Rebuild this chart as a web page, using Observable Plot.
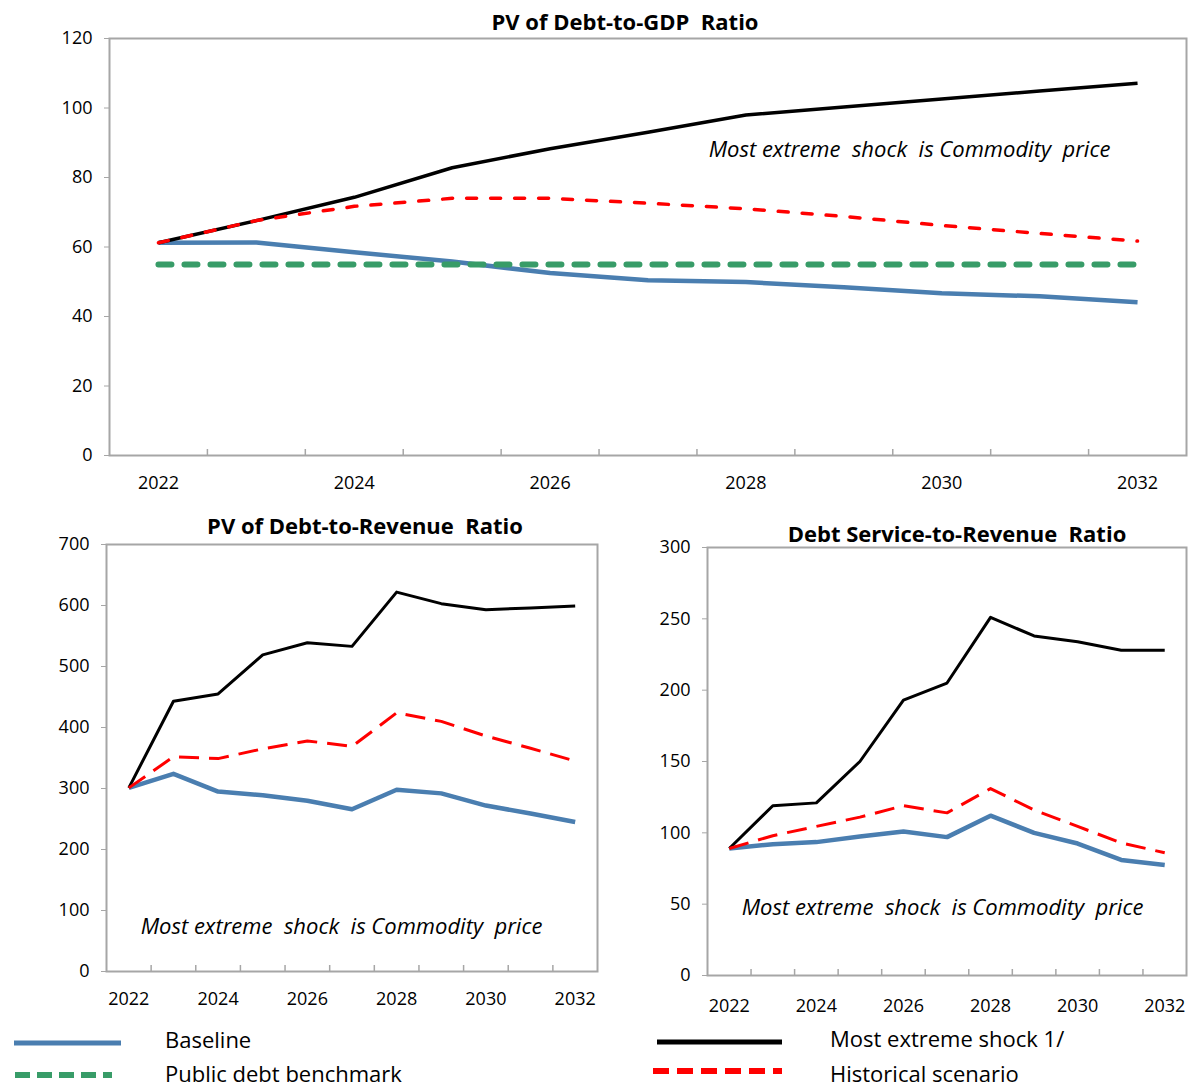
<!DOCTYPE html>
<html>
<head>
<meta charset="utf-8">
<script src="https://cdn.jsdelivr.net/npm/d3@7"></script>
<script src="https://cdn.jsdelivr.net/npm/@observablehq/plot@0.6"></script>
<style>
  body { margin: 0; background: #fff; }
  #root { position: relative; width: 1188px; height: 1087px; font-family: "Open Sans", sans-serif; }
  .chart { position: absolute; }
  .leg-text { position: absolute; font-size: 22px; line-height: 1; color: #000; white-space: pre; transform: translateY(-50%); }
  .leg-sw { position: absolute; }
  svg text { white-space: pre; }
</style>
</head>
<body>
<div id="root"></div>
<script>
// ---------- data ----------
const years = [2022, 2023, 2024, 2025, 2026, 2027, 2028, 2029, 2030, 2031, 2032];
const yearLabels = [2022, 2024, 2026, 2028, 2030, 2032];

// PV of Debt-to-GDP ratio
const gdpBaseline   = [61.2, 61.3, 58.5, 55.8, 52.5, 50.4, 49.9, 48.4, 46.7, 45.8, 44.1];
const gdpBenchmark  = [55, 55, 55, 55, 55, 55, 55, 55, 55, 55, 55];
const gdpShock      = [61.2, 67.6, 74.3, 82.8, 88.3, 93.0, 98.0, 100.3, 102.6, 104.9, 107.1];
const gdpHistorical = [61.2, 67.6, 71.7, 74.0, 74.0, 72.6, 71.0, 68.8, 66.2, 63.9, 61.7];
const gdpTicks = [0, 20, 40, 60, 80, 100, 120];

// PV of Debt-to-Revenue ratio
const revBaseline   = [301, 324, 295, 289, 280, 266, 298, 292, 272, 259, 245];
const revShock      = [301, 443, 455, 519, 539, 533, 622, 603, 593, 596, 599];
const revHistorical = [301, 352, 349, 365, 378, 369, 424, 410, 386, 366, 345];
const revTicks = [0, 100, 200, 300, 400, 500, 600, 700];

// Debt Service-to-Revenue ratio
const dsBaseline   = [89, 92, 93.5, 97.5, 101, 97, 112, 100, 92.5, 81, 77.5];
const dsShock      = [89, 119, 121, 150, 193, 205, 251, 238, 234, 228, 228];
const dsHistorical = [89, 98, 104.5, 111, 119, 114, 131, 116, 104.5, 93, 86];
const dsTicks = [0, 50, 100, 150, 200, 250, 300];

const seriesNames = ["Baseline", "Public debt benchmark", "Most extreme shock 1/", "Historical scenario"];
const annotation = "Most extreme  shock  is Commodity  price";

// ---------- styles ----------
const GRAY = "#a6a6a6";
const BLUE = "#4a7eb0";
const GREEN = "#389c68";
const RED = "#ff0000";

function rows(vals) { return years.map((y, i) => ({year: y, value: vals[i]})); }

function chart(o) {
  const ph = o.height - o.mt - o.mb;
  const boundaries = years.slice(0, -1).map(y => y + 0.5);
  return Plot.plot({
    width: o.width, height: o.height,
    marginTop: o.mt, marginBottom: o.mb, marginLeft: o.ml, marginRight: o.mr,
    x: {domain: [years[0] - 0.5, years[years.length - 1] + 0.5], axis: null},
    y: {domain: [o.ticks[0], o.ticks[o.ticks.length - 1]], axis: null},
    style: {fontFamily: "Open Sans, sans-serif", fontSize: "18px", color: "#000", background: "transparent", overflow: "visible"},
    marks: [
      Plot.ruleX(boundaries, {x: d => d, stroke: GRAY, strokeWidth: 1.5, insetTop: ph - 6}),
      Plot.frame({stroke: GRAY, strokeWidth: 2}),
      Plot.axisY({ticks: o.ticks, tickSize: 5, tickPadding: 12, stroke: GRAY, fill: "#000", fontSize: 18, label: null, tickFormat: d => String(d)}),
      Plot.axisX({ticks: yearLabels, tickSize: 0, tickPadding: o.xpad, fill: "#000", fontSize: 18, label: null, tickFormat: d => String(d)}),
      ...o.lines.map(l => Plot.line(rows(l.values), {
        x: "year", y: "value", stroke: l.color, strokeWidth: l.width,
        strokeDasharray: l.dash, strokeLinecap: l.cap || "butt", strokeLinejoin: "round"
      })),
      Plot.text([o.title], {text: d => d, frameAnchor: "top", dx: o.tdx, dy: o.tdy, textAnchor: "middle", lineAnchor: "middle", fontWeight: "bold", fontSize: 22, fill: "#000"}),
      Plot.text([annotation], {text: d => d, frameAnchor: o.aAnchor, dx: o.adx, dy: o.ady, textAnchor: "middle", lineAnchor: "middle", fontStyle: "italic", fontSize: 22, fill: "#000"})
    ]
  });
}

const root = document.getElementById("root");
function place(el, left, top) {
  el.classList.add("chart");
  el.style.left = left + "px";
  el.style.top = top + "px";
  root.appendChild(el);
}

// Top chart: frame x 109–1186, y 38–455
place(chart({
  width: 1188, height: 500, mt: 38, mb: 45, ml: 109, mr: 2, xpad: 21,
  ticks: gdpTicks,
  title: "PV of Debt-to-GDP  Ratio", tdx: -23, tdy: -16,
  aAnchor: "top-right", adx: -277, ady: 111,
  lines: [
    {values: gdpBaseline, color: BLUE, width: 4.5},
    {values: gdpBenchmark, color: GREEN, width: 6, dash: "13,13", cap: "round"},
    {values: gdpShock, color: "#000", width: 3.5},
    {values: gdpHistorical, color: RED, width: 3.5, dash: "10,14", cap: "round"}
  ]
}), 0, 0);

// Bottom-left: frame x 106–597, y 544–971
place(chart({
  width: 600, height: 506, mt: 34, mb: 45, ml: 106, mr: 3, xpad: 21,
  ticks: revTicks,
  title: "PV of Debt-to-Revenue  Ratio", tdx: 13, tdy: -18,
  aAnchor: "bottom-left", adx: 235, ady: -45,
  lines: [
    {values: revBaseline, color: BLUE, width: 4.5},
    {values: revShock, color: "#000", width: 3},
    {values: revHistorical, color: RED, width: 3, dash: "20,10"}
  ]
}), 0, 510);

// Bottom-right: frame x 707–1186, y 547–975
place(chart({
  width: 588, height: 510, mt: 37, mb: 45, ml: 107, mr: 2, xpad: 24,
  ticks: dsTicks,
  title: "Debt Service-to-Revenue  Ratio", tdx: 10, tdy: -13,
  aAnchor: "bottom-left", adx: 235, ady: -68,
  lines: [
    {values: dsBaseline, color: BLUE, width: 4.5},
    {values: dsShock, color: "#000", width: 3},
    {values: dsHistorical, color: RED, width: 3, dash: "20,10"}
  ]
}), 600, 510);

// ---------- legend ----------
const legend = [
  {name: seriesNames[0], color: BLUE, width: 5, dash: null, x0: 14, x1: 121, y: 1043, tx: 165, ty: 1039},
  {name: seriesNames[1], color: GREEN, width: 6, dash: "15,7", x0: 15, x1: 112, y: 1075, tx: 165, ty: 1073},
  {name: seriesNames[2], color: "#000", width: 5, dash: null, x0: 657, x1: 782, y: 1042, tx: 830, ty: 1038},
  {name: seriesNames[3], color: RED, width: 6, dash: "16,8", x0: 653, x1: 782, y: 1071, tx: 830, ty: 1073}
];
const NS = "http://www.w3.org/2000/svg";
for (const l of legend) {
  const svg = document.createElementNS(NS, "svg");
  const w = l.x1 - l.x0;
  svg.setAttribute("width", w);
  svg.setAttribute("height", 10);
  svg.setAttribute("class", "leg-sw");
  svg.style.left = l.x0 + "px";
  svg.style.top = (l.y - 5) + "px";
  const line = document.createElementNS(NS, "line");
  line.setAttribute("x1", 0); line.setAttribute("x2", w);
  line.setAttribute("y1", 5); line.setAttribute("y2", 5);
  line.setAttribute("stroke", l.color);
  line.setAttribute("stroke-width", l.width);
  if (l.dash) line.setAttribute("stroke-dasharray", l.dash);
  svg.appendChild(line);
  root.appendChild(svg);
  const t = document.createElement("div");
  t.className = "leg-text";
  t.textContent = l.name;
  t.style.left = l.tx + "px";
  t.style.top = l.ty + "px";
  root.appendChild(t);
}
</script>
</body>
</html>
